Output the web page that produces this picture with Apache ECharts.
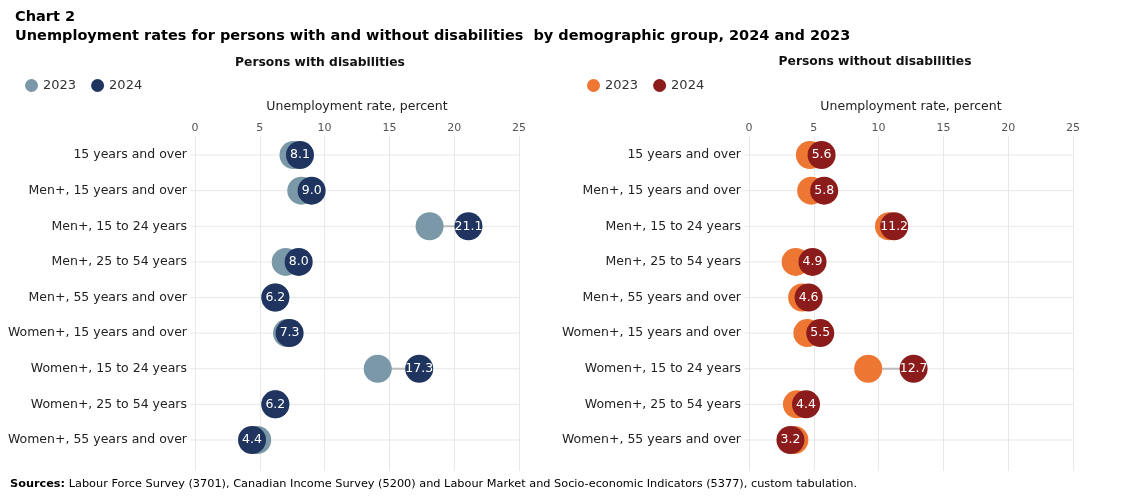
<!DOCTYPE html>
<html>
<head>
<meta charset="utf-8">
<script src="https://cdn.jsdelivr.net/npm/echarts@6/dist/echarts.min.js"></script>
<style>
html,body{margin:0;padding:0;background:#fff;}
#main{width:1139px;height:498px;}
</style>
</head>
<body>
<div id="main"></div>
<script>
var categories = [
  '15 years and over',
  'Men+, 15 years and over',
  'Men+, 15 to 24 years',
  'Men+, 25 to 54 years',
  'Men+, 55 years and over',
  'Women+, 15 years and over',
  'Women+, 15 to 24 years',
  'Women+, 25 to 54 years',
  'Women+, 55 years and over'
];
var withDis2023 = [7.6, 8.2, 18.1, 7.0, 6.2, 7.1, 14.1, 6.2, 4.8];
var withDis2024 = [8.1, 9.0, 21.1, 8.0, 6.2, 7.3, 17.3, 6.2, 4.4];
var withoutDis2023 = [4.7, 4.8, 10.8, 3.6, 4.1, 4.5, 9.2, 3.7, 3.5];
var withoutDis2024 = [5.6, 5.8, 11.2, 4.9, 4.6, 5.5, 12.7, 4.4, 3.2];
var xTicks = [0, 5, 10, 15, 20, 25];

var FONT = "Verdana, 'DejaVu Sans', sans-serif";
var C = {
  l23: '#7A98A8', l24: '#1F3560',
  r23: '#ED7632', r24: '#8C1B1B'
};

var chart = echarts.init(document.getElementById('main'), null, {renderer: 'canvas'});

function pairs(a, b) {
  return a.map(function (v, i) { return [v, b[i], i]; });
}
function pts(a) {
  return a.map(function (v, i) { return [v, i]; });
}

function connectorRender(params, api) {
  var cs = params.coordSys;
  var p1 = api.coord([api.value(0), api.value(2)]);
  var p2 = api.coord([api.value(1), api.value(2)]);
  return {
    type: 'group',
    children: [
      {type: 'line', shape: {x1: cs.x - 5, y1: p1[1], x2: cs.x + cs.width, y2: p1[1]},
       style: {stroke: '#e8e8e8', lineWidth: 1}},
      {type: 'line', shape: {x1: p1[0], y1: p1[1], x2: p2[0], y2: p2[1]},
       style: {stroke: '#bdbdbd', lineWidth: 2}}
    ]
  };
}

var GL = [195, 749];
var GW = 324;

var grids = [], xAxes = [], yAxes = [];
[0, 1].forEach(function (k) {
  grids.push({left: GL[k], width: GW, top: 136, height: 335});
  grids.push({left: GL[k], width: GW, top: 137.2, height: 320.6});
});
[0, 1].forEach(function (k) {
  xAxes.push({
    gridIndex: 2 * k, type: 'value', position: 'top', min: xTicks[0], max: xTicks[xTicks.length - 1], interval: 5,
    name: 'Unemployment rate, percent', nameLocation: 'middle', nameGap: 23,
    nameTextStyle: {fontFamily: FONT, fontSize: 12.5, color: '#222'},
    axisLine: {show: false}, axisTick: {show: false},
    axisLabel: {fontFamily: FONT, fontSize: 11, color: '#555', margin: 2},
    splitLine: {show: true, lineStyle: {color: '#e8e8e8', width: 1}}
  });
  xAxes.push({
    gridIndex: 2 * k + 1, type: 'value', position: 'top', min: xTicks[0], max: xTicks[xTicks.length - 1], interval: 5,
    show: false, splitLine: {show: false}
  });
  yAxes.push({
    gridIndex: 2 * k, type: 'value', show: false, min: 0, max: 1
  });
  yAxes.push({
    gridIndex: 2 * k + 1, type: 'category', data: categories, inverse: true,
    axisLine: {show: false}, axisTick: {show: false}, splitLine: {show: false},
    axisLabel: {fontFamily: FONT, fontSize: 12.5, color: '#222', margin: 8}
  });
});

function labelCfg() {
  return {
    show: true, position: 'inside', color: '#fff', fontFamily: FONT, fontSize: 12.5,
    formatter: function (p) { return p.value[0].toFixed(1); }
  };
}

var series = [
  {type: 'custom', xAxisIndex: 1, yAxisIndex: 1, renderItem: connectorRender,
   data: pairs(withDis2023, withDis2024), silent: true, z: 1},
  {name: 'L2023', type: 'scatter', xAxisIndex: 1, yAxisIndex: 1, symbolSize: 28,
   itemStyle: {color: C.l23, opacity: 1}, data: pts(withDis2023), z: 2},
  {name: 'L2024', type: 'scatter', xAxisIndex: 1, yAxisIndex: 1, symbolSize: 28,
   itemStyle: {color: C.l24, opacity: 1}, data: pts(withDis2024), z: 3, label: labelCfg()},
  {type: 'custom', xAxisIndex: 3, yAxisIndex: 3, renderItem: connectorRender,
   data: pairs(withoutDis2023, withoutDis2024), silent: true, z: 1},
  {name: 'R2023', type: 'scatter', xAxisIndex: 3, yAxisIndex: 3, symbolSize: 28,
   itemStyle: {color: C.r23, opacity: 1}, data: pts(withoutDis2023), z: 2},
  {name: 'R2024', type: 'scatter', xAxisIndex: 3, yAxisIndex: 3, symbolSize: 28,
   itemStyle: {color: C.r24, opacity: 1}, data: pts(withoutDis2024), z: 3, label: labelCfg()}
];

function legendCfg(left, names) {
  return {
    left: left, top: 74, data: names, icon: 'circle', itemWidth: 13, itemHeight: 13,
    itemGap: 15, selectedMode: false,
    textStyle: {fontFamily: FONT, fontSize: 13, color: '#333'},
    formatter: function (n) { return n.slice(1); }
  };
}

chart.setOption({
  animation: false,
  backgroundColor: '#fff',
  title: [
    {text: 'Chart 2', left: 10, top: 5,
     textStyle: {fontFamily: FONT, fontSize: 14.5, fontWeight: 'bold', color: '#000'}},
    {text: 'Unemployment rates for persons with and without disabilities  by demographic group, 2024 and 2023',
     left: 10, top: 24,
     textStyle: {fontFamily: FONT, fontSize: 14.5, fontWeight: 'bold', color: '#000'}},
    {text: 'Persons with disabilities', left: 315, textAlign: 'center', top: 52,
     textStyle: {fontFamily: FONT, fontSize: 12.3, fontWeight: 'bold', color: '#111'}},
    {text: 'Persons without disabilities', left: 870, textAlign: 'center', top: 51,
     textStyle: {fontFamily: FONT, fontSize: 12.3, fontWeight: 'bold', color: '#111'}}
  ],
  legend: [legendCfg(20, ['L2023', 'L2024']), legendCfg(582, ['R2023', 'R2024'])],
  grid: grids,
  xAxis: xAxes,
  yAxis: yAxes,
  series: series,
  graphic: [{
    type: 'text', left: 10, top: 479,
    style: {
      text: '{b|Sources:} Labour Force Survey (3701), Canadian Income Survey (5200) and Labour Market and Socio-economic Indicators (5377), custom tabulation.',
      rich: {b: {fontWeight: 'bold', fontFamily: FONT, fontSize: 11.3, fill: '#000'}},
      fontFamily: FONT, fontSize: 11.3, fill: '#000'
    }
  }]
});
</script>
</body>
</html>
